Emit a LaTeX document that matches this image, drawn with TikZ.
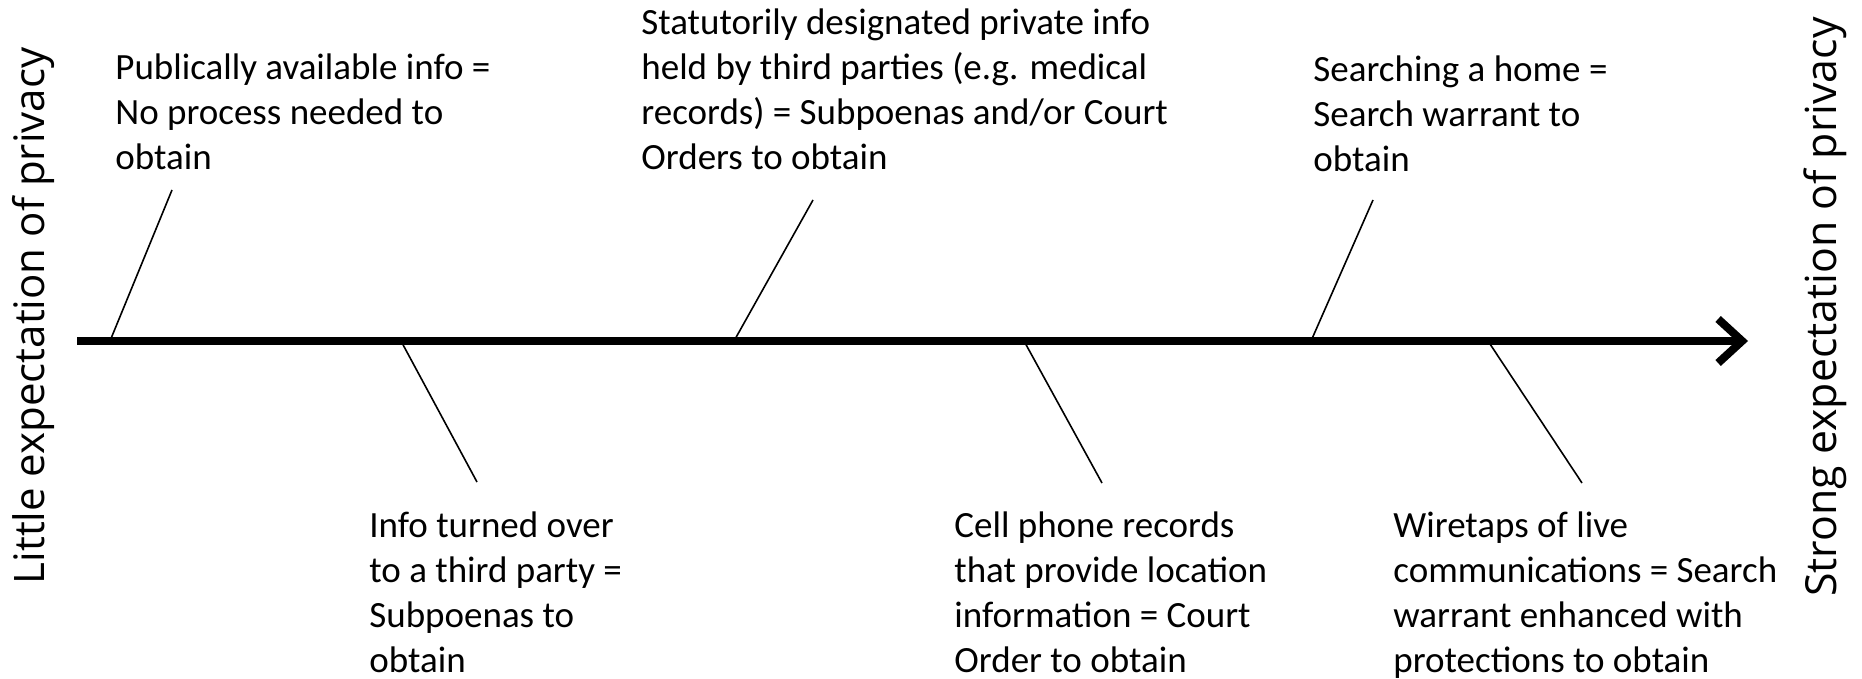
\documentclass[tikz,border=0pt]{standalone}
\usepackage{fontspec}
\setmainfont{Carlito}
\newfontfamily\sidefont{Open Sans}
\usetikzlibrary{arrows.meta}
\begin{document}
\begin{tikzpicture}[x=0.5pt,y=-0.5pt,
  lbl/.style={anchor=north west, inner sep=0pt, align=left, font=\fontsize{18.5pt}{22.6pt}\selectfont},
  side/.style={rotate=90, inner sep=0pt, font=\sidefont\fontsize{21pt}{25pt}\selectfont},
  spoke/.style={line width=0.8pt},
  axisline/.style={line width=4pt, -{Straight Barb[length=12pt,width=22pt]}}]
\useasboundingbox[fill=white] (0,0) rectangle (1862,679);
% side labels
\node[side] (little) at (33,316) {Little expectation of privacy};
\node[side, font=\sidefont\fontsize{21.4pt}{25pt}\selectfont] (strong) at (1825,307) {Strong expectation of privacy};
% axis
\coordinate (s) at (77,341);
\coordinate (e) at (1748,341);
\draw[axisline] (s) -- (e);
% labels
\node[lbl] (t1) at (115,53) {Publically available info =\\No process needed to\\obtain};
\node[lbl] (t2) at (641,8) {Statutorily designated private info\\held by third parties (e.g. medical\\records) = Subpoenas and/or Court\\Orders to obtain};
\node[lbl] (t3) at (1313,55) {Searching a home =\\Search warrant to\\obtain};
\node[lbl] (t4) at (369,511) {Info turned over\\to a third party =\\Subpoenas to\\obtain};
\node[lbl] (t5) at (954,511) {Cell phone records\\that provide location\\information = Court\\Order to obtain};
\node[lbl] (t6) at (1393,511) {Wiretaps of live\\communications = Search\\warrant enhanced with\\protections to obtain};
% spoke ends
\coordinate (a1) at (172,190); \coordinate (b1) at (110,341);
\coordinate (a2) at (813,200); \coordinate (b2) at (734,341);
\coordinate (a3) at (1373,200); \coordinate (b3) at (1311,341);
\coordinate (a4) at (401,341); \coordinate (b4) at (477,482);
\coordinate (a5) at (1024,341); \coordinate (b5) at (1102,483);
\coordinate (a6) at (1488,341); \coordinate (b6) at (1582,483);
\draw[spoke] (a1) -- (b1);
\draw[spoke] (a2) -- (b2);
\draw[spoke] (a3) -- (b3);
\draw[spoke] (a4) -- (b4);
\draw[spoke] (a5) -- (b5);
\draw[spoke] (a6) -- (b6);
\end{tikzpicture}
\end{document}
